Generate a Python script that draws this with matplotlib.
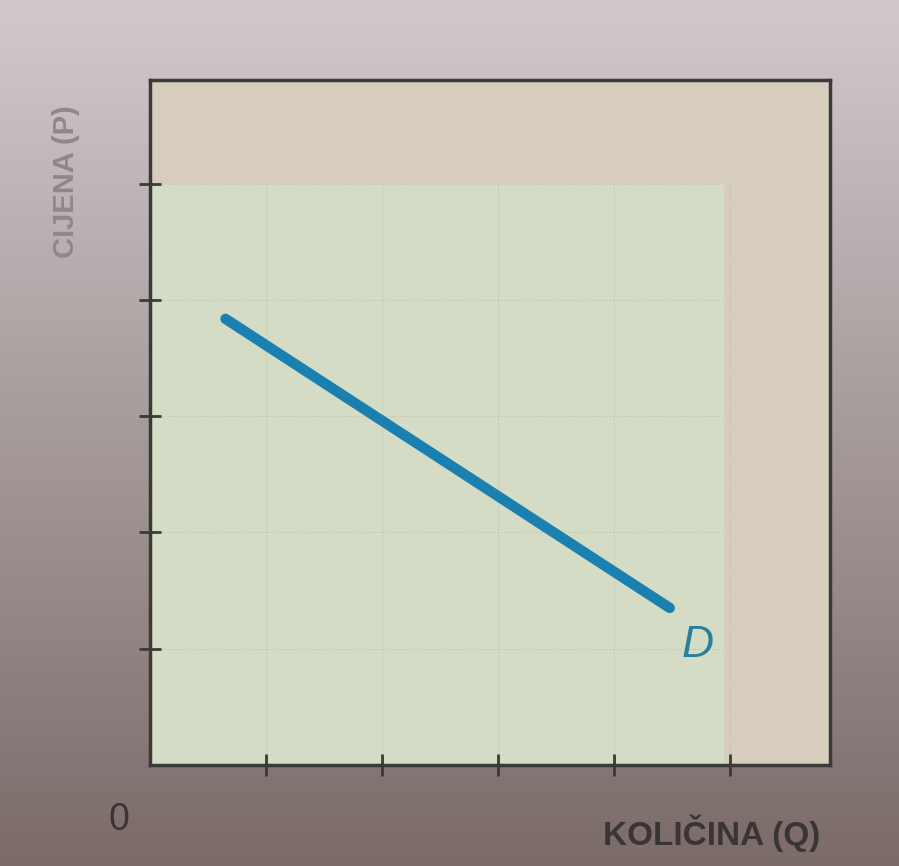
import numpy as np
import matplotlib.pyplot as plt
from matplotlib.patches import Rectangle

# demand line D (two end points)
q_vals = [0.65, 4.48]
p_vals = [3.84, 1.35]
tick_pos = [1, 2, 3, 4, 5]
x_label = "KOLIČINA (Q)"
y_label = "CIJENA (P)"
curve_label = "D"

fig = plt.figure(figsize=(8.99, 8.66), dpi=100)

# photo-like background gradient (light top, darker bottom)
bg = fig.add_axes([0, 0, 1, 1], zorder=-10)
top = np.array([0.82, 0.79, 0.80])
bot = np.array([0.48, 0.42, 0.41])
t = np.linspace(0, 1, 256)[:, None]
grad = top * (1 - t) + bot * t
bg.imshow(grad[:, None, :].repeat(2, axis=1), aspect="auto", extent=[0, 1, 0, 1])
bg.axis("off")

ax = fig.add_axes([0.167, 0.117, 0.756, 0.791])
ax.set_xlim(0, 5.86)
ax.set_ylim(0, 5.9)
ax.set_facecolor("#d6cdbd")

# green shaded area
ax.add_patch(Rectangle((0, 0), 4.95, 5.0, facecolor="#d4dcc5", edgecolor="none", zorder=0))

# faint dotted grid
for v in tick_pos:
    ax.plot([v, v], [0, 5.0], color="#bcc2b0", lw=0.8, ls=":", zorder=1)
    ax.plot([0, 4.95], [v, v], color="#bcc2b0", lw=0.8, ls=":", zorder=1)

ax.plot(q_vals, p_vals, color="#1a80b0", lw=7.5, solid_capstyle="round", zorder=3)
ax.text(4.72, 1.03, curve_label, color="#2a7f9c", fontsize=32, style="italic",
        ha="center", va="center", family="Liberation Sans")

for s in ax.spines.values():
    s.set_linewidth(2.5)
    s.set_color("#3a3a38")

ax.set_xticks(tick_pos)
ax.set_yticks(tick_pos)
ax.set_xticklabels([])
ax.set_yticklabels([])
ax.tick_params(direction="inout", length=16, width=2, color="#3a3a38")

fig.text(0.132, 0.053, "0", fontsize=27, color="#3a3535", ha="center", va="center",
         family="Liberation Sans")
fig.text(0.792, 0.038, x_label, fontsize=24, color="#3a3535", ha="center", va="center",
         family="Liberation Sans", weight="bold")
fig.text(0.073, 0.79, y_label, fontsize=21, color="#8e8888", ha="center", va="center",
         rotation=90, family="Liberation Sans", weight="bold")

fig.savefig("out.png", dpi=100)
